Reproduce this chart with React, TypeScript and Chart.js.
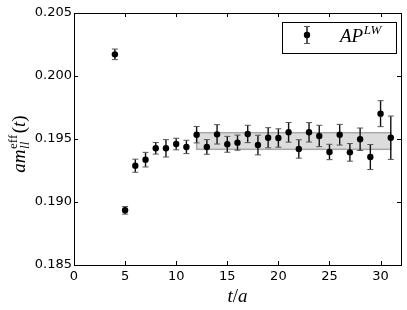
import React, { useEffect, useRef } from "react";
import { Chart, registerables } from "chart.js";

Chart.register(...registerables);

// ---- data ----
const tValues = [4, 5, 6, 7, 8, 9, 10, 11, 12, 13, 14, 15, 16, 17, 18, 19, 20, 21, 22, 23, 24, 25, 26, 27, 28, 29, 30, 31];
const mEff = [
  0.20172, 0.18934, 0.19288, 0.19336, 0.19426, 0.19426, 0.1946, 0.19437, 0.19534, 0.19437,
  0.19537, 0.19458, 0.19471, 0.1954, 0.19452, 0.1951, 0.19508, 0.19553, 0.19421, 0.19553,
  0.19524, 0.19397, 0.19534, 0.19394, 0.19498, 0.19357, 0.19701, 0.1951,
];
const mErr = [
  0.00042, 0.0003, 0.00052, 0.00058, 0.00046, 0.00069, 0.00046, 0.00053, 0.00065, 0.00058,
  0.00077, 0.00063, 0.0006, 0.00069, 0.00078, 0.0008, 0.00073, 0.00078, 0.00073, 0.00077,
  0.00085, 0.00061, 0.00082, 0.0007, 0.00089, 0.00099, 0.00103, 0.00172,
];
const fitRange = [12, 31];
const fitLow = 0.19418;
const fitHigh = 0.1955;
const xTicks = [0, 5, 10, 15, 20, 25, 30];
const yTicks = [0.185, 0.19, 0.195, 0.2, 0.205];
const xMin = 0, xMax = 32;
const yMin = 0.185, yMax = 0.205;
const legendMain = "AP";
const legendSup = "LW";

const SERIF = "'Liberation Serif', 'DejaVu Serif', serif";

const customPlugin = {
  id: "custom",
  beforeDatasetsDraw(chart: any) {
    const { ctx, scales } = chart;
    const x = scales.x, y = scales.y;
    ctx.save();
    // fit band
    const x0 = x.getPixelForValue(fitRange[0]);
    const x1 = x.getPixelForValue(fitRange[1]);
    const yT = y.getPixelForValue(fitHigh);
    const yB = y.getPixelForValue(fitLow);
    ctx.fillStyle = "#dcdcdc";
    ctx.fillRect(x0, yT, x1 - x0, yB - yT);
    ctx.strokeStyle = "#a8a8a8";
    ctx.lineWidth = 1.5;
    ctx.strokeRect(x0, yT, x1 - x0, yB - yT);
    // error bars
    for (let i = 0; i < tValues.length; i++) {
      const px = x.getPixelForValue(tValues[i]);
      const hi = y.getPixelForValue(mEff[i] + mErr[i]);
      const lo = y.getPixelForValue(mEff[i] - mErr[i]);
      ctx.strokeStyle = "#111";
      ctx.lineWidth = 1.4;
      ctx.beginPath();
      ctx.moveTo(px, hi);
      ctx.lineTo(px, lo);
      ctx.stroke();
      ctx.strokeStyle = "#555";
      ctx.lineWidth = 1;
      ctx.beginPath();
      ctx.moveTo(px - 3, hi);
      ctx.lineTo(px + 3, hi);
      ctx.moveTo(px - 3, lo);
      ctx.lineTo(px + 3, lo);
      ctx.stroke();
    }
    ctx.restore();
  },
  afterDraw(chart: any) {
    const { ctx, chartArea: a, scales } = chart;
    const x = scales.x, y = scales.y;
    ctx.save();
    // frame
    ctx.strokeStyle = "#000";
    ctx.lineWidth = 1;
    ctx.strokeRect(Math.round(a.left) + 0.5, Math.round(a.top) + 0.5, Math.round(a.right - a.left), Math.round(a.bottom - a.top));
    // inward ticks
    const tl = 4;
    ctx.beginPath();
    for (const v of xTicks) {
      const px = Math.round(x.getPixelForValue(v)) + 0.5;
      ctx.moveTo(px, a.bottom);
      ctx.lineTo(px, a.bottom - tl);
      ctx.moveTo(px, a.top);
      ctx.lineTo(px, a.top + tl);
    }
    for (const v of yTicks) {
      const py = Math.round(y.getPixelForValue(v)) + 0.5;
      ctx.moveTo(a.left, py);
      ctx.lineTo(a.left + tl, py);
      ctx.moveTo(a.right, py);
      ctx.lineTo(a.right - tl, py);
    }
    ctx.stroke();

    // legend
    const lx = 282, ly = 22, lw = 114, lh = 31;
    ctx.fillStyle = "#fff";
    ctx.fillRect(lx, ly, lw, lh);
    ctx.strokeStyle = "#000";
    ctx.lineWidth = 1;
    ctx.strokeRect(lx + 0.5, ly + 0.5, lw, lh);
    const mx = 307, my = 35;
    ctx.strokeStyle = "#111";
    ctx.lineWidth = 1.4;
    ctx.beginPath();
    ctx.moveTo(mx, my - 8.5);
    ctx.lineTo(mx, my + 8.5);
    ctx.stroke();
    ctx.strokeStyle = "#555";
    ctx.lineWidth = 1;
    ctx.beginPath();
    ctx.moveTo(mx - 3, my - 8.5);
    ctx.lineTo(mx + 3, my - 8.5);
    ctx.moveTo(mx - 3, my + 8.5);
    ctx.lineTo(mx + 3, my + 8.5);
    ctx.stroke();
    ctx.fillStyle = "#000";
    ctx.beginPath();
    ctx.arc(mx, my, 3.2, 0, Math.PI * 2);
    ctx.fill();
    ctx.textBaseline = "alphabetic";
    ctx.textAlign = "left";
    ctx.font = `italic 19px ${SERIF}`;
    ctx.fillText(legendMain, 340, 42);
    const wMain = ctx.measureText(legendMain).width;
    ctx.font = `italic 13px ${SERIF}`;
    ctx.fillText(legendSup, 340 + wMain + 0.5, 34);

    // x title: t/a
    {
      const parts = [
        { t: "t", f: `italic 19px ${SERIF}` },
        { t: "/", f: `19px ${SERIF}` },
        { t: "a", f: `italic 19px ${SERIF}` },
      ];
      let total = 0;
      for (const p of parts) { ctx.font = p.f; total += ctx.measureText(p.t).width; }
      let cx = (a.left + a.right) / 2 - total / 2;
      for (const p of parts) {
        ctx.font = p.f;
        ctx.fillText(p.t, cx, 302);
        cx += ctx.measureText(p.t).width;
      }
    }

    // y title: am_ll^eff(t)
    {
      ctx.translate(25, 144);
      ctx.rotate(-Math.PI / 2);
      const big = `italic 19px ${SERIF}`;
      const small = `italic 13px ${SERIF}`;
      const smallUp = `13px ${SERIF}`;
      const up = `19px ${SERIF}`;
      ctx.font = big; const wAm = ctx.measureText("am").width;
      ctx.font = small; const wLl = ctx.measureText("ll").width;
      ctx.font = smallUp; const wEff = ctx.measureText("eff").width;
      ctx.font = up; const wOp = ctx.measureText("(").width; const wCp = ctx.measureText(")").width;
      ctx.font = big; const wT = ctx.measureText("t").width;
      const wScript = Math.max(wLl, wEff) + 2;
      const total = wAm + wScript + wOp + wT + wCp;
      let cx = -total / 2;
      ctx.font = big; ctx.fillText("am", cx, 0); cx += wAm;
      ctx.font = small; ctx.fillText("ll", cx + 0.5, 4);
      ctx.font = smallUp; ctx.fillText("eff", cx + 0.5, -8);
      cx += wScript;
      ctx.font = up; ctx.fillText("(", cx, 0); cx += wOp;
      ctx.font = big; ctx.fillText("t", cx, 0); cx += wT;
      ctx.font = up; ctx.fillText(")", cx, 0);
    }
    ctx.restore();
  },
};

export default function App() {
  const ref = useRef<HTMLCanvasElement | null>(null);
  useEffect(() => {
    document.body.style.margin = "0";
    if (!ref.current) return;
    const chart = new Chart(ref.current, {
      type: "scatter",
      data: {
        datasets: [
          {
            label: legendMain + legendSup,
            data: tValues.map((t, i) => ({ x: t, y: mEff[i] })),
            backgroundColor: "#000",
            borderColor: "#000",
            borderWidth: 0,
            pointRadius: 3.2,
            pointHoverRadius: 3.2,
          },
        ],
      },
      options: {
        animation: false,
        responsive: false,
        devicePixelRatio: 1,
        events: [],
        layout: { padding: { top: 13, right: 6, left: 0, bottom: 0 } },
        plugins: { legend: { display: false }, tooltip: { enabled: false } },
        scales: {
          x: {
            type: "linear",
            min: xMin,
            max: xMax,
            grid: { display: false, drawTicks: false },
            border: { display: false },
            afterBuildTicks: (s: any) => { s.ticks = xTicks.map((v) => ({ value: v })); },
            afterFit: (s: any) => { s.height = 45; },
            ticks: {
              color: "#000",
              padding: 4,
              maxRotation: 0,
              font: { family: "'DejaVu Sans'", size: 13 },
              callback: (v: any) => String(v),
            },
          },
          y: {
            type: "linear",
            min: yMin,
            max: yMax,
            grid: { display: false, drawTicks: false },
            border: { display: false },
            afterBuildTicks: (s: any) => { s.ticks = yTicks.map((v) => ({ value: v })); },
            afterFit: (s: any) => { s.width = 74; },
            ticks: {
              color: "#000",
              padding: 2,
              font: { family: "'DejaVu Sans'", size: 13 },
              callback: (v: any) => Number(v).toFixed(3),
            },
          },
        },
      },
      plugins: [customPlugin],
    });
    return () => chart.destroy();
  }, []);
  return (
    <div style={{ position: "absolute", left: 0, top: 0, width: 407, height: 310, background: "#fff" }}>
      <canvas ref={ref} width={407} height={310} style={{ display: "block" }} />
    </div>
  );
}
